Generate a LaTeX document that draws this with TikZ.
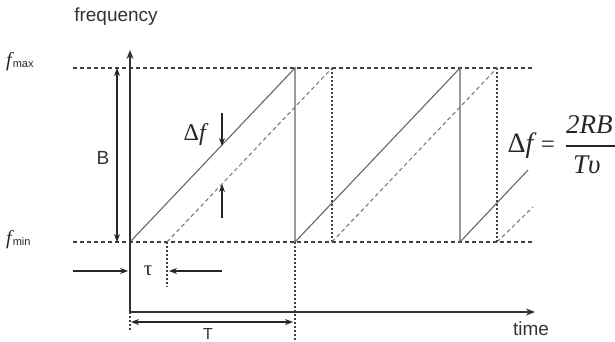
\documentclass[tikz,border=0pt]{standalone}
\usepackage{fontspec}
\setmainfont{Liberation Sans}
\newfontfamily\tms{Liberation Serif}
\usetikzlibrary{arrows.meta}
\begin{document}
\begin{tikzpicture}[x=1pt,y=-1pt,
  axis/.style={draw=black!80, line width=1.6pt},
  axisarrow/.style={axis, -{Stealth[length=9pt,width=7pt]}},
  ramp/.style={draw=black!60, line width=1.1pt},
  dramp/.style={draw=black!55, line width=1pt, dash pattern=on 4pt off 3pt},
  hdash/.style={draw=black!75, line width=1.1pt, dash pattern=on 4pt off 3pt},
  vdot/.style={draw=black!75, line width=1.1pt, dash pattern=on 2pt off 2pt},
  dimarrow/.style={draw=black!85, line width=1.1pt, -{Stealth[length=8pt,width=6pt]}},
  ddimarrow/.style={draw=black!85, line width=1.1pt, {Stealth[length=8pt,width=6pt]}-{Stealth[length=8pt,width=6pt]}},
  lbl/.style={font=\fontsize{18}{20}\selectfont, text=black!80, inner sep=0pt},
  mlbl/.style={font=\fontsize{27}{29}\selectfont\tms, text=black!85, inner sep=0pt},
]
\useasboundingbox (0,0) rectangle (615,342);

% key points
\coordinate (O) at (130,312);
\coordinate (Ytop) at (130,50);
\coordinate (Xend) at (535,312);
\coordinate (A0) at (130,242);
\coordinate (A1) at (295,68);
\coordinate (A1b) at (295,242);
\coordinate (A2) at (460,68);
\coordinate (A2b) at (460,242);
\coordinate (A3) at (528,170);
\coordinate (D0) at (167,242);
\coordinate (D1) at (332,68);
\coordinate (D1b) at (332,242);
\coordinate (D2) at (497,68);
\coordinate (D2b) at (497,242);
\coordinate (D3) at (533,207);
\coordinate (HmaxL) at (73,68);
\coordinate (HmaxR) at (532,68);
\coordinate (HminL) at (73,242);
\coordinate (HminR) at (532,242);
\coordinate (TauEnd) at (167,287);
\coordinate (TEnd) at (295,342);
\coordinate (OEnd) at (130,332);

% dashed level lines
\draw[hdash] (HmaxL) -- (HmaxR);
\draw[hdash] (HminL) -- (HminR);

% dotted verticals
\draw[vdot] (D1) -- (D1b);
\draw[vdot] (D2) -- (D2b);
\draw[vdot] (D0) -- (TauEnd);
\draw[vdot] (A1b) -- (TEnd);
\draw[vdot] (O) -- (OEnd);

% ramps
\draw[ramp] (A0) -- (A1) -- (A1b) -- (A2) -- (A2b) -- (A3);
\draw[dramp] (D0) -- (D1);
\draw[dramp] (D1b) -- (D2);
\draw[dramp] (D2b) -- (D3);

% axes
\draw[axisarrow] (O) -- (Ytop);
\draw[axisarrow] (O) -- (Xend);

% B dimension
\coordinate (Btop) at (117,68);
\coordinate (Bbot) at (117,242);
\draw[ddimarrow] (Btop) -- (Bbot);
\node[lbl, font=\fontsize{19}{21}\selectfont] (B) at (103,158) {B};

% tau dimension
\coordinate (TauL0) at (73,271);
\coordinate (TauL1) at (128,271);
\coordinate (TauR0) at (222,271);
\coordinate (TauR1) at (169,271);
\draw[dimarrow] (TauL0) -- (TauL1);
\draw[dimarrow] (TauR0) -- (TauR1);
\node[font=\fontsize{21}{23}\selectfont\tms, text=black!85, inner sep=0pt] (tau) at (148,271) {τ};

% T dimension
\coordinate (TL) at (131,322);
\coordinate (TR) at (293,322);
\draw[ddimarrow] (TL) -- (TR);
\node[font=\fontsize{16}{18}\selectfont, text=black!80, inner sep=0pt] (T) at (208,334) {T};

% delta f arrows
\coordinate (DfA0) at (222,113);
\coordinate (DfA1) at (222,146);
\coordinate (DfB0) at (222,218);
\coordinate (DfB1) at (222,184);
\draw[dimarrow] (DfA0) -- (DfA1);
\draw[dimarrow] (DfB0) -- (DfB1);
\node[mlbl, font=\fontsize{24}{26}\selectfont\tms] (df) at (196,135) {Δ\textit{f}};

% axis labels
\node[lbl, font=\fontsize{19}{21}\selectfont] (freq) at (116,17) {frequency};
\node[lbl, font=\fontsize{19}{21}\selectfont] (time) at (531,329) {time};

% level labels
\node[anchor=west, inner sep=0pt, text=black!85] (fmax) at (6,62)
  {{\fontsize{20}{21}\selectfont\tms\itshape f}\hspace{1pt}\raisebox{-1pt}{\fontsize{11}{12}\selectfont max}};
\node[anchor=west, inner sep=0pt, text=black!85] (fmin) at (6,240)
  {{\fontsize{20}{21}\selectfont\tms\itshape f}\hspace{1pt}\raisebox{-1pt}{\fontsize{11}{12}\selectfont min}};

% formula
\node[mlbl, font=\fontsize{28}{30}\selectfont\tms] (fdf) at (522,146) {Δ\textit{f}};
\node[mlbl, font=\fontsize{25}{27}\selectfont\tms] (feq) at (548,147) {=};
\node[mlbl, anchor=west] (fnum) at (566,125) {\textit{2RB}};
\node[mlbl, anchor=west] (fden) at (573,165) {\textit{Tυ}};
\coordinate (barL) at (566,146);
\coordinate (barR) at (615,146);
\draw[draw=black!85, line width=1.1pt] (barL) -- (barR);
\end{tikzpicture}
\end{document}
